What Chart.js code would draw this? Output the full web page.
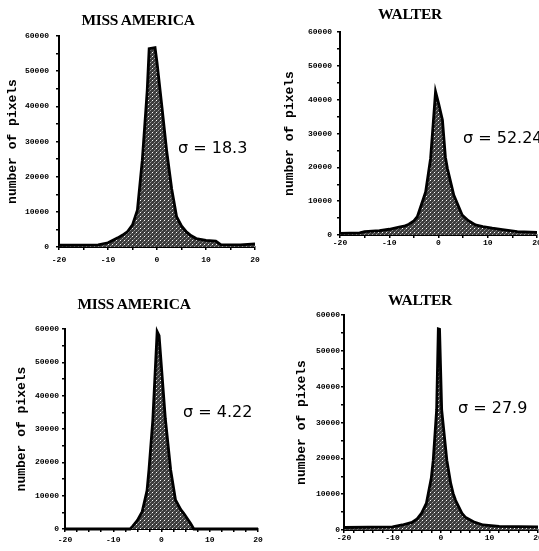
<!DOCTYPE html>
<html lang="en">
<head>
<meta charset="UTF-8">
<title>Histogramas do erro de predição</title>
<script src="https://cdn.jsdelivr.net/npm/chart.js"></script>
<style>
  body { margin: 0; background: #fff; }
  .quadro { position: relative; width: 539px; height: 551px; overflow: hidden; }
  .quadro canvas { position: absolute; }
  .titulo { position: absolute; font-family: 'Liberation Serif'; font-weight: bold; font-size: 15.5px; transform: translate(-50%, -50%); white-space: nowrap; letter-spacing: -0.3px; }
  .sigma { position: absolute; font-family: 'DejaVu Sans'; font-size: 16px; color: #000; transform: translateY(-50%); white-space: nowrap; }
</style>
</head>
<body>

<div class="quadro">
  <canvas id="g1" width="270" height="275" style="left:0;top:0"></canvas>
  <canvas id="g2" width="269" height="275" style="left:270px;top:0"></canvas>
  <canvas id="g3" width="270" height="271" style="left:0;top:280px"></canvas>
  <canvas id="g4" width="269" height="271" style="left:270px;top:280px"></canvas>

  <div class="titulo" style="left:138px;top:20px">MISS AMERICA</div>
  <div class="titulo" style="left:410px;top:14px">WALTER</div>
  <div class="titulo" style="left:134px;top:304px">MISS AMERICA</div>
  <div class="titulo" style="left:420px;top:300px">WALTER</div>

  <div class="sigma" style="left:178px;top:147px">σ = 18.3</div>
  <div class="sigma" style="left:463px;top:137px">σ = 52.24</div>
  <div class="sigma" style="left:183px;top:411px">σ = 4.22</div>
  <div class="sigma" style="left:458px;top:407px">σ = 27.9</div>
</div>

<script>
// valores (erro de predição x número de pixels)
const xMiss1 = [-20, -12, -10, -8, -7, -6, -5, -4, -3, -2, -1.6, -0.4, 0, 1, 2, 3, 4, 5, 6, 7, 8, 10, 12, 13, 17, 20];
const yMiss1 = [500, 600, 1200, 2600, 3400, 4400, 6300, 10500, 24700, 44400, 56400, 56700, 52500, 39900, 27000, 16500, 8600, 6000, 4300, 3200, 2400, 1900, 1700, 700, 600, 900];

const xWalter1 = [-20, -16, -15, -12, -10, -8, -7, -6, -5, -4.3, -3, -2.6, -1.6, -1.1, -0.6, 0, 0.8, 1.4, 1.8, 3.1, 4.8, 6, 7.5, 9, 10.9, 13, 16, 20];
const yWalter1 = [500, 600, 1000, 1300, 1700, 2300, 2600, 3200, 4200, 5400, 11000, 12800, 22700, 32500, 42400, 39000, 34000, 23000, 19700, 11800, 5900, 4300, 3000, 2500, 2000, 1600, 1000, 800];

const xMiss2 = [-20, -6.5, -6, -5, -4, -3, -2.6, -1.8, -0.9, -0.5, 0.8, 1.9, 2.9, 4, 4.6, 6, 6.7, 20];
const yMiss2 = [0, 0, 800, 2600, 5200, 11500, 17700, 32700, 59200, 58000, 33000, 17700, 8700, 5800, 4700, 1700, 0, 0];

const xWalter2 = [-20, -10, -8, -6, -5, -4, -3, -2, -1.6, -0.9, -0.55, -0.3, 0.14, 1.2, 2, 2.5, 3, 4.3, 5, 6.7, 8.7, 12, 20];
const yWalter2 = [700, 900, 1400, 2100, 3000, 4700, 7500, 14500, 19500, 33500, 56100, 56000, 33500, 19500, 13000, 10200, 8300, 4700, 3600, 2300, 1400, 1000, 900];

const fonteTick = { family: 'Liberation Mono', size: 8, weight: 'bold' };

// preenchimento pontilhado cinza escuro
function padraoCinza() {
    const c = document.createElement('canvas');
    c.width = 4;
    c.height = 4;
    const g = c.getContext('2d');
    g.fillStyle = '#3c3c3c';
    g.fillRect(0, 0, 4, 4);
    g.fillStyle = '#ffffff';
    g.fillRect(0, 0, 1, 1);
    g.fillStyle = '#9a9a9a';
    g.fillRect(2, 2, 1, 1);
    g.fillStyle = '#6e6e6e';
    g.fillRect(1, 3, 1, 1);
    g.fillRect(3, 1, 1, 1);
    return g.createPattern(c, 'repeat');
}

function criarGrafico(id, xs, ys, m) {
    const pontos = xs.map(function (x, i) { return { x: x, y: ys[i] }; });

    return new Chart(document.getElementById(id), {
        type: 'line',
        data: {
            datasets: [{
                data: pontos,
                borderColor: '#000',
                borderWidth: 2.8,
                backgroundColor: padraoCinza(),
                fill: 'origin',
                pointRadius: 0,
                tension: 0,
                clip: 4
            }]
        },
        options: {
            responsive: false,
            animation: false,
            layout: { padding: { top: m.topo, right: m.dir, left: 0, bottom: 0 } },
            plugins: {
                legend: { display: false },
                tooltip: { enabled: false }
            },
            scales: {
                x: {
                    type: 'linear',
                    min: -20,
                    max: 20,
                    afterFit: function (s) { s.height = m.baixo; s.paddingLeft = 0; s.paddingRight = 0; },
                    ticks: {
                        stepSize: m.passoX,
                        autoSkip: false,
                        maxRotation: 0,
                        padding: m.padX,
                        color: '#000',
                        font: fonteTick,
                        callback: function (v) { return v % 10 === 0 ? String(v) : ''; }
                    },
                    grid: { drawOnChartArea: false, tickLength: 3, color: '#000', lineWidth: 1.5 },
                    border: { color: '#000', width: 2 }
                },
                y: {
                    min: 0,
                    max: 60000,
                    afterFit: function (s) { s.width = m.esq; s.paddingTop = 0; s.paddingBottom = 0; },
                    ticks: {
                        stepSize: 5000,
                        autoSkip: false,
                        padding: m.padY,
                        color: '#000',
                        font: fonteTick,
                        callback: function (v) { return v % 10000 === 0 ? String(v) : ''; }
                    },
                    grid: { drawOnChartArea: false, tickLength: 3, color: '#000', lineWidth: 1.5 },
                    border: { color: '#000', width: 2 },
                    title: {
                        display: true,
                        text: 'number of pixels',
                        color: '#000',
                        font: { family: 'Liberation Mono', size: 13, weight: 'bold' },
                        padding: { top: m.padTitulo, bottom: 0 }
                    }
                }
            }
        }
    });
}

criarGrafico('g1', xMiss1, yMiss1, { topo: 36, dir: 15, esq: 59, baixo: 28, passoX: 5, padX: 5, padY: 7, padTitulo: 5 });
criarGrafico('g2', xWalter1, yWalter1, { topo: 32, dir: 2, esq: 70, baixo: 40, passoX: 5, padX: 0, padY: 5, padTitulo: 12 });
criarGrafico('g3', xMiss2, yMiss2, { topo: 49, dir: 12, esq: 65, baixo: 22, passoX: 2.5, padX: 3, padY: 3, padTitulo: 14 });
criarGrafico('g4', xWalter2, yWalter2, { topo: 35, dir: 1, esq: 74, baixo: 21, passoX: 2, padX: 0, padY: 1, padTitulo: 24 });
</script>
</body>
</html>
